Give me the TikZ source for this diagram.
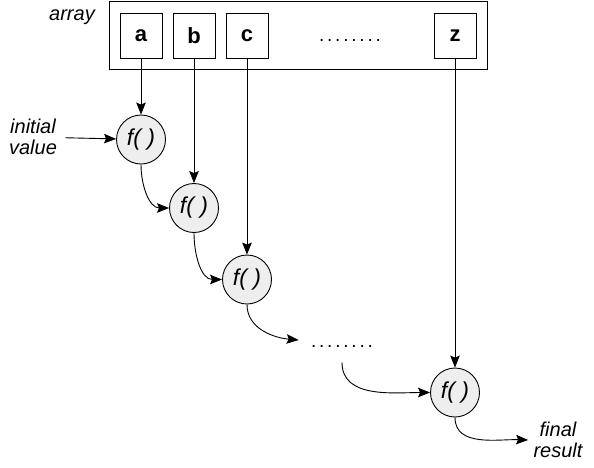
\documentclass[tikz,border=0pt]{standalone}
\usepackage{fontspec}
\setmainfont{Liberation Sans}
\usetikzlibrary{arrows.meta}
\newcommand\puntjes{.\kern2.8pt.\kern2.8pt.\kern2.8pt.\kern2.8pt.\kern2.8pt.\kern2.8pt.\kern2.8pt.}
\begin{document}
\begin{tikzpicture}[x=1pt,y=-1pt,line width=0.9pt,
    vak/.style={draw,minimum width=42pt,minimum height=45pt,inner sep=0pt,
      font=\fontsize{22}{24}\selectfont\bfseries},
    fun/.style={draw,circle,fill=gray!13,minimum size=49pt,inner sep=0pt,
      font=\fontsize{23}{24}\selectfont\itshape},
    tekst/.style={align=center,font=\fontsize{20}{21.5}\selectfont\itshape},
    pijl/.style={-{Stealth[length=12pt,width=9.5pt,inset=2pt]}}]
    \useasboundingbox (0,0) rectangle (594,467);

    % De array met zijn vakjes
    \node[draw,minimum width=378pt,minimum height=68pt,inner sep=0pt] (arr) at (298,35) {};
    \node[tekst] (naam) at (72,17) {array};
    \node[vak] (a) at (141,35.5) {a};
    \node[vak] (b) at (194,35.5) {b};
    \node[vak] (c) at (247,35.5) {c};
    \node[vak] (z) at (455,35.5) {z};
    \node[font=\fontsize{19}{22}\selectfont] (stip1) at (350,40) {\puntjes};

    % De functie-aanroepen
    \node[fun] (f1) at (141,139.5) {f( )};
    \node[fun] (f2) at (194,208) {f( )};
    \node[fun] (f3) at (247,279.5) {f( )};
    \node[fun] (f4) at (455,392.5) {f( )};
    \node[font=\fontsize{19}{22}\selectfont,text height=14pt,text depth=0pt,
      inner xsep=12pt,inner ysep=15pt] (stip2) at (342,340) {\puntjes};

    % Begin- en eindwaarde
    \node[tekst,inner xsep=8pt] (begin) at (33,137) {initial\\value};
    \node[tekst,inner xsep=5pt] (eind) at (558,440) {final\\result};

    % Pijlen van de elementen naar f
    \draw[pijl] (a) -- (f1);
    \draw[pijl] (b) -- (f2);
    \draw[pijl] (c) -- (f3);
    \draw[pijl] (z) -- (f4);

    % De keten van resultaten
    \draw[pijl] (begin) -- (f1);
    \draw[pijl] (f1.south) to[out=-90,in=180] (f2.west);
    \draw[pijl] (f2.south) to[out=-90,in=180] (f3.west);
    \draw[pijl] (f3.south) to[out=-90,in=175] (stip2.west);
    \draw[pijl] (stip2.south) to[out=-90,in=180] (f4.west);
    \draw[pijl] (f4.south) to[out=-90,in=178] (eind.west);
\end{tikzpicture}
\end{document}
